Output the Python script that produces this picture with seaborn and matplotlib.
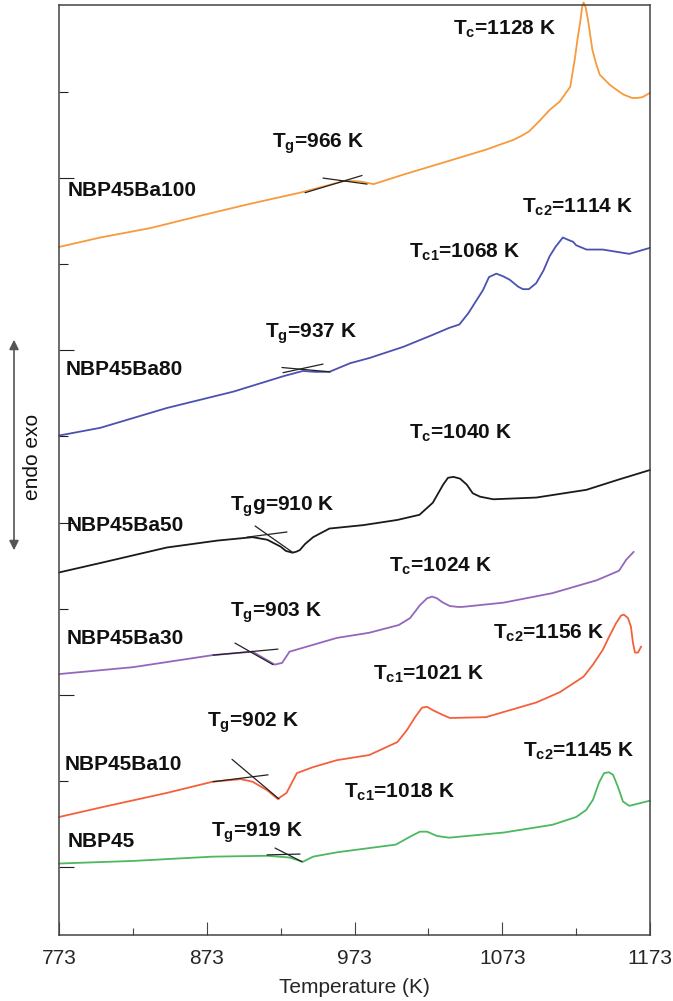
import numpy as np
import pandas as pd
import matplotlib
matplotlib.use("Agg")
import matplotlib.pyplot as plt
import seaborn as sns
from matplotlib.ticker import FixedLocator

# DSC traces, heat flow in arbitrary units (one unit = one y tick step)
samples = ['NBP45Ba100', 'NBP45Ba80', 'NBP45Ba50', 'NBP45Ba30', 'NBP45Ba10', 'NBP45']
colors = ['#f89a3c', '#4a52b0', '#1a1a1a', '#9467bd', '#f5603c', '#4cb860']

t_ba100 = [773, 801, 835, 868, 902, 936, 967, 977, 986, 1006, 1035, 1062, 1070, 1080, 1086,
           1091, 1098, 1105, 1112, 1119, 1122, 1124, 1126, 1127, 1128, 1129.5, 1131, 1134,
           1136.5, 1139, 1142.5, 1146, 1150, 1155, 1158, 1161, 1164, 1168, 1173]
q_ba100 = [7.20, 7.31, 7.42, 7.56, 7.70, 7.83, 7.97, 7.96, 7.93, 8.04, 8.19, 8.33, 8.38, 8.44, 8.49,
           8.54, 8.66, 8.79, 8.89, 9.06, 9.37, 9.62, 9.84, 9.98, 10.04, 9.98, 9.84, 9.49,
           9.33, 9.20, 9.14, 9.08, 9.03, 8.97, 8.95, 8.93, 8.93, 8.94, 8.99]

t_ba80 = [773, 801, 846, 891, 925, 938, 946, 956, 970, 983, 1006, 1026, 1037, 1044,
          1050, 1060, 1064, 1069, 1073.5, 1078, 1083.7, 1087, 1091, 1096, 1101, 1105,
          1109, 1114, 1118, 1121, 1123, 1130, 1141, 1159, 1173]
q_ba80 = [5.01, 5.10, 5.33, 5.52, 5.70, 5.76, 5.75, 5.75, 5.85, 5.91, 6.04, 6.18, 6.26, 6.30,
          6.43, 6.70, 6.85, 6.89, 6.86, 6.82, 6.74, 6.71, 6.71, 6.78, 6.93, 7.09,
          7.20, 7.31, 7.28, 7.26, 7.22, 7.17, 7.17, 7.12, 7.19]

t_ba50 = [773, 801, 846, 880, 904, 914, 923, 926.6, 931, 933.4, 936, 939.5, 945, 956, 979,
          1002, 1017, 1026, 1033, 1036.3, 1040, 1044.4, 1049, 1053, 1058, 1067, 1096, 1130,
          1152, 1173]
q_ba50 = [3.42, 3.53, 3.71, 3.79, 3.83, 3.80, 3.72, 3.67, 3.65, 3.66, 3.68, 3.75, 3.83, 3.93, 3.97,
          4.03, 4.09, 4.23, 4.44, 4.52, 4.53, 4.51, 4.44, 4.34, 4.30, 4.27, 4.29, 4.38,
          4.50, 4.61]

t_ba30 = [773, 823, 877, 904, 914, 919, 924, 929, 945, 961, 983, 1003, 1010.6, 1017.3,
          1022.1, 1025.5, 1028.8, 1032.9, 1037.6, 1043, 1046, 1074, 1107, 1137, 1152, 1157, 1162]
q_ba30 = [2.24, 2.32, 2.46, 2.50, 2.40, 2.35, 2.37, 2.50, 2.58, 2.66, 2.72, 2.81, 2.89, 3.04,
          3.12, 3.14, 3.12, 3.07, 3.03, 3.02, 3.02, 3.07, 3.18, 3.33, 3.44, 3.57, 3.66]

t_ba10 = [773, 801, 846, 877, 896, 904, 914, 921, 927, 934, 945, 961, 983, 1002,
          1008.5, 1014, 1018.7, 1022.1, 1026.1, 1032.2, 1037.6, 1062, 1096, 1112, 1128, 1134.4,
          1141, 1145.2, 1150, 1153.4, 1155.4, 1158.1, 1160.1, 1161.5, 1162.8, 1164.9, 1167]
q_ba10 = [0.58, 0.69, 0.86, 0.99, 1.02, 0.99, 0.89, 0.79, 0.86, 1.09, 1.16, 1.24, 1.30, 1.45,
          1.59, 1.74, 1.85, 1.86, 1.82, 1.77, 1.73, 1.74, 1.91, 2.03, 2.21, 2.35,
          2.52, 2.67, 2.83, 2.92, 2.93, 2.89, 2.79, 2.60, 2.49, 2.49, 2.56]

t_ba0 = [773, 823, 877, 914, 929, 938, 945, 961, 1001, 1012.6, 1017.3, 1022.1, 1028.8, 1037,
         1074, 1107, 1123, 1129.7, 1134.4, 1138.5, 1141.9, 1145.2, 1148, 1151.3, 1154.7,
         1159, 1173]
q_ba0 = [0.04, 0.07, 0.12, 0.13, 0.11, 0.06, 0.12, 0.17, 0.26, 0.37, 0.41, 0.41, 0.36, 0.34,
         0.40, 0.49, 0.58, 0.66, 0.78, 0.98, 1.09, 1.10, 1.07, 0.93, 0.76,
         0.71, 0.77]

# Tg onset tangent lines: (T0, q0, T1, q1)
tangents = [
    (939.5, 7.83, 978.1, 8.03), (951.7, 8.00, 981.5, 7.93),
    (923.9, 5.80, 956.4, 5.75), (924.6, 5.74, 951.7, 5.84),
    (905.7, 3.96, 931.4, 3.65), (900.2, 3.83, 927.3, 3.89),
    (892.1, 2.60, 917.8, 2.35), (877.2, 2.46, 921.2, 2.53),
    (890.1, 1.25, 921.9, 0.79), (877.2, 0.99, 914.5, 1.07),
    (919.2, 0.22, 937.5, 0.06), (913.8, 0.14, 936.1, 0.15),
]

# sample labels (T, q) and event annotations (T, q baseline, label)
label_pos = [(779.1, 7.86), (777.7, 5.78), (778.4, 3.97), (778.4, 2.65), (777.1, 1.19), (779.1, 0.30)]
events = [
    (1039.7, 9.66, r'$\mathbf{T_{c}}$=1128 K'),
    (917.2, 8.35, r'$\mathbf{T_{g}}$=966 K'),
    (1086.4, 7.60, r'$\mathbf{T_{c2}}$=1114 K'),
    (1009.9, 7.08, r'$\mathbf{T_{c1}}$=1068 K'),
    (912.4, 6.15, r'$\mathbf{T_{g}}$=937 K'),
    (1009.9, 4.97, r'$\mathbf{T_{c}}$=1040 K'),
    (888.7, 4.14, r'$\mathbf{T_{g}}$g=910 K'),
    (996.3, 3.43, r'$\mathbf{T_{c}}$=1024 K'),
    (888.7, 2.91, r'$\mathbf{T_{g}}$=903 K'),
    (1066.7, 2.65, r'$\mathbf{T_{c2}}$=1156 K'),
    (985.5, 2.18, r'$\mathbf{T_{c1}}$=1021 K'),
    (873.2, 1.63, r'$\mathbf{T_{g}}$=902 K'),
    (1087.0, 1.28, r'$\mathbf{T_{c2}}$=1145 K'),
    (965.9, 0.81, r'$\mathbf{T_{c1}}$=1018 K'),
    (875.9, 0.35, r'$\mathbf{T_{g}}$=919 K'),
]

curves_t = [t_ba100, t_ba80, t_ba50, t_ba30, t_ba10, t_ba0]
curves_q = [q_ba100, q_ba80, q_ba50, q_ba30, q_ba10, q_ba0]
df = pd.concat([pd.DataFrame({'T': t, 'q': q, 'sample': s})
                for t, q, s in zip(curves_t, curves_q, samples)], ignore_index=True)

sns.set_style("ticks")
plt.rcParams['font.family'] = ['Liberation Sans', 'DejaVu Sans']
plt.rcParams['mathtext.fontset'] = 'custom'
plt.rcParams['mathtext.bf'] = 'Liberation Sans:bold'
plt.rcParams['mathtext.rm'] = 'Liberation Sans'

fig = plt.figure(figsize=(6.73, 10.01), dpi=100)
ax = fig.add_axes([59 / 673, 1 - 935 / 1001, 591 / 673, 930 / 1001])

sns.lineplot(data=df, x='T', y='q', hue='sample', hue_order=samples,
             palette=dict(zip(samples, colors)), sort=False, estimator=None,
             legend=False, lw=1.3, ax=ax, clip_on=False,
             solid_joinstyle='round', solid_capstyle='round')

for t0, q0, t1, q1 in tangents:
    ax.plot([t0, t1], [q0, q1], color='#222222', lw=0.9)

for (t, q), s in zip(label_pos, samples):
    ax.text(t, q, s, fontsize=15, fontweight='bold', va='center', ha='left', color='#111111')
for t, q, s in events:
    ax.text(t, q, s, fontsize=15, fontweight='bold', va='baseline', ha='left', color='#111111')

ax.set_xlim(773, 1173)
ax.set_ylim(-0.79, 10.01)
ax.xaxis.set_major_locator(FixedLocator([773, 873, 973, 1073, 1173]))
ax.xaxis.set_minor_locator(FixedLocator([823, 923, 1023, 1123]))
ax.yaxis.set_major_locator(FixedLocator([0, 2, 4, 6, 8]))
ax.yaxis.set_minor_locator(FixedLocator([1, 3, 5, 7, 9]))
ax.set_yticklabels([])
ax.tick_params(axis='x', which='major', direction='in', length=9.5, width=0.8,
               color='#444444', labelsize=15, pad=10)
ax.tick_params(axis='x', which='minor', direction='in', length=5, width=0.8, color='#444444')
ax.tick_params(axis='y', which='major', direction='in', length=11, width=0.8, color='#222222')
ax.tick_params(axis='y', which='minor', direction='in', length=6.5, width=0.8, color='#222222')
for sp in ax.spines.values():
    sp.set_color('#444444')
    sp.set_linewidth(1.1)

ax.set_xlabel('Temperature (K)', fontsize=15, labelpad=7)
ax.set_ylabel('')

# endo/exo double arrow
fig.patches.append(matplotlib.patches.FancyArrowPatch(
    (14 / 673, 1 - 553 / 1001), (14 / 673, 1 - 337 / 1001), transform=fig.transFigure,
    arrowstyle='<|-|>', mutation_scale=14, color='#555555', lw=1.2))
fig.text(32 / 673, 1 - 457 / 1001, 'endo exo', rotation=90, fontsize=15,
         ha='center', va='center', color='#111111')

fig.savefig('out.png', dpi=100)
